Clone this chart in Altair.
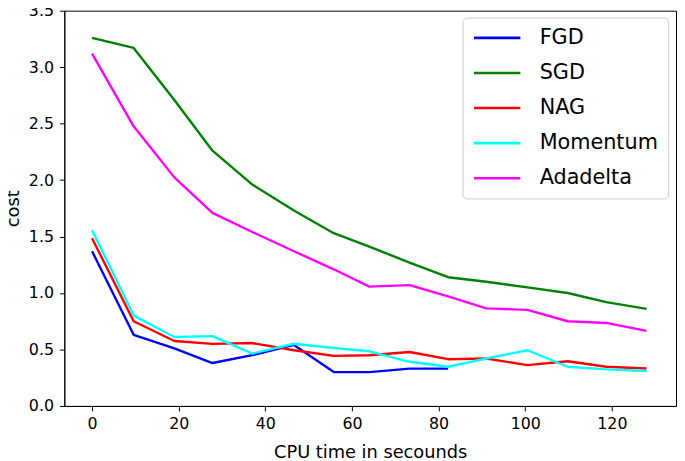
import altair as alt
import pandas as pd

# CPU time (seconds) at each recorded iteration
time = [0, 9.6, 19.0, 27.8, 37.0, 46.6, 55.8, 64.0, 73.3, 82.2, 91.0, 100.5, 109.8, 118.7, 128.0]

fgd = [1.37, 0.63, 0.51, 0.38, 0.45, 0.54, 0.30, 0.30, 0.33, 0.33]
sgd = [3.26, 3.17, 2.71, 2.26, 1.96, 1.73, 1.53, 1.41, 1.27, 1.14, 1.10, 1.05, 1.00, 0.92, 0.86]
nag = [1.485, 0.75, 0.575, 0.55, 0.557, 0.493, 0.443, 0.449, 0.478, 0.414, 0.42, 0.361, 0.396, 0.347, 0.332]
momentum = [1.557, 0.80, 0.61, 0.618, 0.464, 0.551, 0.513, 0.484, 0.391, 0.347, 0.42, 0.493, 0.347, 0.324, 0.309]
adadelta = [3.12, 2.476, 2.024, 1.709, 1.54, 1.37, 1.21, 1.056, 1.07, 0.97, 0.864, 0.851, 0.75, 0.735, 0.665]

names = ["FGD", "SGD", "NAG", "Momentum", "Adadelta"]
colors = ["#0000ff", "#008000", "#ff0000", "#00ffff", "#ff00ff"]
series = [fgd, sgd, nag, momentum, adadelta]

x_ticks = [0, 20, 40, 60, 80, 100, 120]
y_ticks = [0.0, 0.5, 1.0, 1.5, 2.0, 2.5, 3.0, 3.5]

rows = []
for name, vals in zip(names, series):
    for i, v in enumerate(vals):
        rows.append({"algo": name, "order": i, "time": time[i], "cost": v})
df = pd.DataFrame(rows)

FONT = "DejaVu Sans"

chart = (
    alt.Chart(df)
    .mark_line(strokeWidth=2.4, strokeJoin="round", strokeCap="butt")
    .encode(
        x=alt.X(
            "time:Q",
            scale=alt.Scale(domain=[-6.4, 134.8], nice=False, zero=False),
            axis=alt.Axis(
                values=x_ticks,
                title="CPU time in secounds",
                titleFontSize=18,
                titleFontWeight="normal",
                titleBaseline="alphabetic",
                titleY=52,
                labelPadding=5,
            ),
        ),
        y=alt.Y(
            "cost:Q",
            scale=alt.Scale(domain=[0, 3.5], nice=False, zero=False),
            axis=alt.Axis(
                values=y_ticks,
                format=".1f",
                title="cost",
                titleFontSize=18,
                titleFontWeight="normal",
                titleAngle=-90,
                titleBaseline="alphabetic",
                titleAlign="center",
                titleX=-46,
                titleY=200,
                labelPadding=6,
            ),
        ),
        color=alt.Color(
            "algo:N",
            scale=alt.Scale(domain=names, range=colors),
            legend=alt.Legend(
                title=None,
                orient="none",
                legendX=403,
                legendY=7,
                symbolType="stroke",
                symbolSize=2209,
                symbolStrokeWidth=2.6,
                labelFontSize=21,
                labelFont=FONT,
                labelColor="black",
                labelOffset=18,
                rowPadding=13.5,
                clipHeight=21,
                padding=10,
                strokeColor="#cccccc",
                fillColor="white",
                cornerRadius=4,
            ),
        ),
        order="order:Q",
        detail="algo:N",
    )
    .properties(
        width=619,
        height=400,
        autosize=alt.AutoSizeParams(type="none"),
        padding={"left": 57, "top": 0, "right": 1, "bottom": 53},
    )
    .configure_view(stroke="black", strokeWidth=1)
    .configure_axis(
        grid=False,
        domainColor="black",
        domainWidth=1,
        tickColor="black",
        tickSize=5,
        tickWidth=1,
        labelFont=FONT,
        labelFontSize=16,
        labelColor="black",
        titleFont=FONT,
        titleColor="black",
    )
)

chart.save("out.html", embed_options={"renderer": "svg", "actions": False})
